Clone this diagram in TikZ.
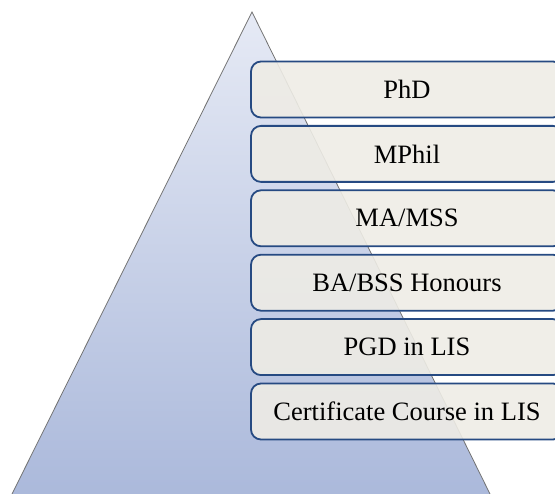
\documentclass[tikz,border=0pt]{standalone}
\usepackage{fontspec}
\setmainfont{Liberation Serif}
\usetikzlibrary{positioning}

\definecolor{pyrtop}{RGB}{230,234,245}
\definecolor{pyrbot}{RGB}{171,185,219}
\definecolor{boxfill}{RGB}{238,236,229}
\definecolor{boxline}{RGB}{38,74,130}

\tikzset{
  level/.style={draw=boxline,line width=1.8pt,fill=boxfill,fill opacity=0.9,
    text opacity=1,rounded corners=10pt,minimum width=312pt,minimum height=56pt,
    inner sep=0pt,outer sep=0pt,font=\fontsize{26.5}{30}\selectfont},
  pyr/.style={draw=black!55,line width=0.8pt}
}

\begin{document}
\begin{tikzpicture}[x=1pt,y=-1pt]
      \useasboundingbox (0,0) rectangle (555,494);
      % pyramid
      \shade[top color=pyrtop,bottom color=pyrbot] (252,12) -- (12,494) -- (490,494) -- cycle;
      \draw[pyr] (12,494) -- (252,12) -- (490,494);
      % levels
      \node[level] (phd) at (407,89.5) {PhD};
      \node[level,below=8.4pt of phd] (mphil) {MPhil};
      \node[level,below=8.4pt of mphil] (ma) {MA/MSS};
      \node[level,below=8.4pt of ma] (ba) {BA/BSS Honours};
      \node[level,below=8.4pt of ba] (pgd) {PGD in LIS};
      \node[level,below=8.4pt of pgd] (cert) {Certificate Course in LIS};
\end{tikzpicture}
\end{document}
